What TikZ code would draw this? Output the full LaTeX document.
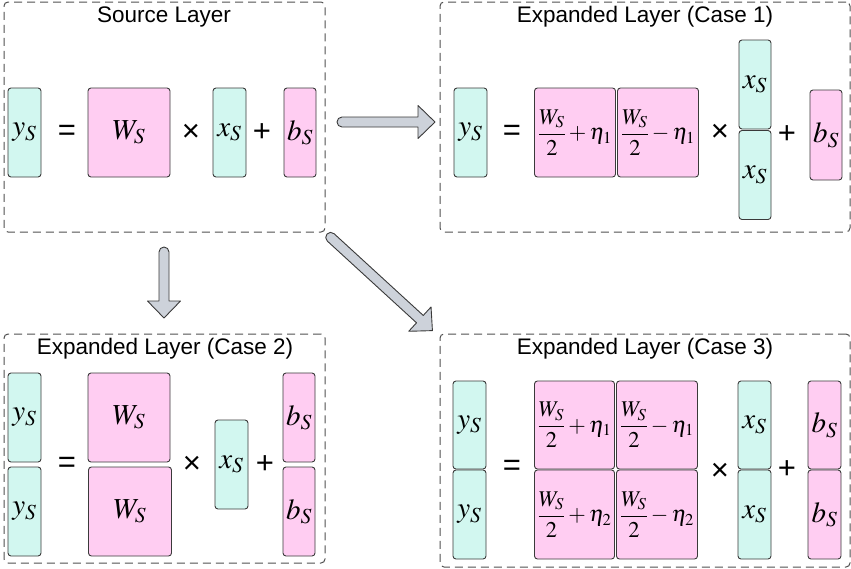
\documentclass[tikz,border=0pt]{standalone}
\IfFileExists{mathptmx.sty}{\usepackage{mathptmx}}{\usepackage{lmodern}}
\usepackage{fontspec}
\setmainfont{Liberation Sans}
\usetikzlibrary{calc}
\definecolor{cyanfill}{HTML}{D2F7F0}
\definecolor{pinkfill}{HTML}{FFCDF2}
\definecolor{edge}{HTML}{3A3A3A}
\definecolor{arrowfill}{HTML}{CDD2DA}
\definecolor{dashcol}{HTML}{505050}
\newcommand{\halfw}{\displaystyle\frac{W_S}{2}}
\tikzset{
  cell/.style={draw=edge, line width=0.9pt, rounded corners=3pt, inner sep=0pt,
    font=\fontsize{29}{33}\selectfont},
  cyanbox/.style={cell, fill=cyanfill},
  pinkbox/.style={cell, fill=pinkfill},
  narrow/.style={minimum width=33pt, minimum height=89pt},
  wide/.style={minimum width=81pt, minimum height=89pt},
  op/.style={inner sep=0pt, font=\fontsize{31}{35}\selectfont},
  panel/.style={draw=dashcol, line width=1pt, dash pattern=on 8pt off 5pt, rounded corners=4pt},
  paneltitle/.style={inner sep=0pt, font=\fontsize{22.5}{26}\selectfont},
  fracfont/.style={font=\fontsize{22.5}{26}\selectfont},
  blockarrow/.style={draw=edge, fill=arrowfill, line width=0.9pt, line join=round}
}
\newcommand{\blockarr}[3]{% tail, angle, length
  \begin{scope}[shift={(#1)}, rotate=#2]
    \path[blockarrow] (#3pt-17pt,5pt) -- (#3pt-17pt,16.5pt) -- (#3pt,0pt) -- (#3pt-17pt,-16.5pt)
      -- (#3pt-17pt,-5pt) -- (5pt,-5pt) arc[start angle=-90, end angle=-270, radius=5pt] -- cycle;
  \end{scope}}
\begin{document}
\begin{tikzpicture}[x=1pt,y=-1pt]
\useasboundingbox (0,0) rectangle (851,568);

% ---------- Source layer ----------
\node[panel, minimum width=321pt, minimum height=230pt, inner sep=0pt] (src) at (164.5,117) {};
\node[paneltitle] (srct) at (164,17) {Source Layer};
\node[cyanbox, narrow] (s-y) at (24.5,132.5) {$y_S$};
\node[op] (s-eq) at (67,133) {=};
\node[pinkbox, wide, minimum width=82pt] (s-w) at (129,132.5) {$W_S$};
\node[op] (s-x) at (191,133) {×};
\node[cyanbox, narrow] (s-xs) at (229.5,132.5) {$x_S$};
\node[op] (s-p) at (262,133) {+};
\node[pinkbox, narrow, minimum width=32pt] (s-b) at (300,132.5) {$b_S$};

% ---------- Case 1 ----------
\node[panel, minimum width=410pt, minimum height=230pt, inner sep=0pt] (c1) at (645,117) {};
\node[paneltitle] (c1t) at (645,17) {Expanded Layer (Case 1)};
\node[cyanbox, narrow] (c1-y) at (470.5,132.5) {$y_S$};
\node[op] (c1-eq) at (512,133) {=};
\node[pinkbox, wide, fracfont] (c1-w1) at (575,132.5) {$\halfw+\eta_1$};
\node[pinkbox, wide, fracfont] (c1-w2) at (658,132.5) {$\halfw-\eta_1$};
\node[op] (c1-x) at (720,133) {×};
\node[cyanbox, narrow, minimum width=32pt] (c1-xs1) at (755,84.5) {$x_S$};
\node[cyanbox, narrow, minimum width=32pt] (c1-xs2) at (755,175) {$x_S$};
\node[op] (c1-p) at (787,135) {+};
\node[pinkbox, narrow, minimum width=32pt, minimum height=90pt] (c1-b) at (826,135) {$b_S$};

% ---------- Case 2 ----------
\node[panel, minimum width=321pt, minimum height=229pt, inner sep=0pt] (c2) at (164.5,448.5) {};
\node[paneltitle] (c2t) at (165,349) {Expanded Layer (Case 2)};
\node[cyanbox, narrow] (c2-y1) at (24.5,417.5) {$y_S$};
\node[cyanbox, narrow] (c2-y2) at (24.5,511.5) {$y_S$};
\node[op] (c2-eq) at (67,465) {=};
\node[pinkbox, wide, minimum width=82pt] (c2-w1) at (129,417.5) {$W_S$};
\node[pinkbox, wide, minimum width=83pt] (c2-w2) at (130,511.5) {$W_S$};
\node[op] (c2-x) at (192,465) {×};
\node[cyanbox, narrow] (c2-xs) at (231.5,464.5) {$x_S$};
\node[op] (c2-p) at (265,465) {+};
\node[pinkbox, narrow, minimum width=32pt] (c2-b1) at (299,417.5) {$b_S$};
\node[pinkbox, narrow, minimum width=32pt] (c2-b2) at (299,511.5) {$b_S$};

% ---------- Case 3 ----------
\node[panel, minimum width=410pt, minimum height=233pt, inner sep=0pt] (c3) at (645,450.5) {};
\node[paneltitle] (c3t) at (645,349) {Expanded Layer (Case 3)};
\node[cyanbox, narrow, minimum height=88pt] (c3-y1) at (469.5,425) {$y_S$};
\node[cyanbox, narrow] (c3-y2) at (469.5,514.5) {$y_S$};
\node[op] (c3-eq) at (512,468) {=};
\node[pinkbox, wide, fracfont, minimum width=80pt, minimum height=88pt] (c3-w11) at (574.5,425) {$\halfw+\eta_1$};
\node[pinkbox, wide, fracfont, minimum height=88pt] (c3-w12) at (657,425) {$\halfw-\eta_1$};
\node[pinkbox, wide, fracfont, minimum width=80pt] (c3-w21) at (574.5,514.5) {$\halfw+\eta_2$};
\node[pinkbox, wide, fracfont] (c3-w22) at (657,514.5) {$\halfw-\eta_2$};
\node[op] (c3-x) at (720,472) {×};
\node[cyanbox, narrow, minimum height=88pt] (c3-xs1) at (754.5,425) {$x_S$};
\node[cyanbox, narrow] (c3-xs2) at (754.5,514.5) {$x_S$};
\node[op] (c3-p) at (787,470) {+};
\node[pinkbox, narrow, minimum height=88pt] (c3-b1) at (824.5,425) {$b_S$};
\node[pinkbox, narrow] (c3-b2) at (824.5,514.5) {$b_S$};

% ---------- Arrows ----------
\coordinate (a1) at (337,122);
\coordinate (a2) at (164,247);
\coordinate (a3) at (327,234);
\blockarr{a1}{0}{98}
\blockarr{a2}{-90}{71}
\blockarr{a3}{-42.5}{143}
\end{tikzpicture}
\end{document}
